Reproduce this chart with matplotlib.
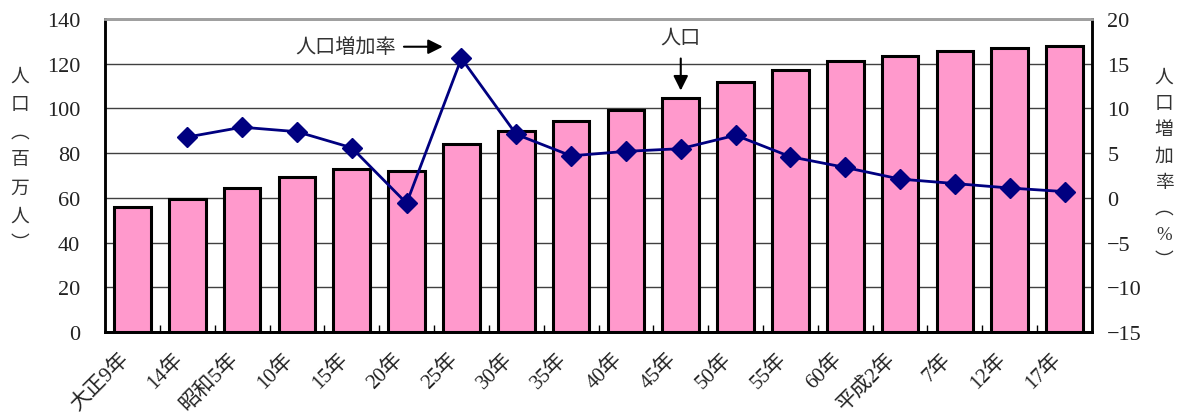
import numpy as np
import matplotlib
matplotlib.use("Agg")
import matplotlib.pyplot as plt

plt.rcParams['font.family'] = ['Liberation Serif', 'Noto Sans CJK JP']

## Data
years = ['大正9年', '14年', '昭和5年', '10年', '15年', '20年', '25年', '30年', '35年',
         '40年', '45年', '50年', '55年', '60年', '平成2年', '7年', '12年', '17年']
population = [56.0, 59.7, 64.4, 69.3, 73.1, 72.1, 84.1, 90.1, 94.3,
              99.2, 104.7, 111.9, 117.1, 121.0, 123.6, 125.6, 126.9, 127.8]
# growth rate starts at the second period (14年)
growth = [np.nan, 6.8, 7.9, 7.4, 5.6, -0.6, 15.6, 7.1, 4.7,
          5.2, 5.5, 7.0, 4.6, 3.4, 2.1, 1.6, 1.1, 0.7]

left_ticks = np.arange(0, 141, 20)
right_ticks = np.arange(-15, 21, 5)

#%% Figure
fig = plt.figure(figsize=(11.8, 4.14), dpi=100)
ax = fig.add_axes([105/1180, 1 - 333/414, (1092 - 105)/1180, (333 - 20)/414])
ax2 = ax.twinx()

x = np.arange(len(years))

# --- bars: population ---
ax.bar(x, population, width=0.67, color='#FF99CC', edgecolor='black', linewidth=2.2, zorder=2)
ax.set_xlim(-0.5, len(years) - 0.5)
ax.set_ylim(0, 140)
ax.set_yticks(left_ticks)
ax.yaxis.grid(True, color='#404040', linewidth=1)
ax.set_axisbelow(True)
ax.tick_params(axis='y', length=0, pad=18, labelsize=16, colors='#222222')

ax.set_xticks(x)
ax.set_xticklabels(years, rotation=45, ha='right', va='top', fontsize=15)
ax.set_xticks(np.arange(0.5, len(years) - 1, 1), minor=True)
ax.tick_params(axis='x', which='major', length=0, pad=12, colors='#222222')
ax.tick_params(axis='x', which='minor', direction='in', length=5, width=1)

# --- line: growth rate ---
ax2.plot(x, growth, color='#000080', linewidth=2, marker='D', markersize=10, zorder=3)
ax2.set_ylim(-15, 20)
ax2.set_yticks(right_ticks)
ax2.tick_params(axis='y', length=0, pad=11, labelsize=16, colors='#222222')

for a in (ax, ax2):
    a.spines['left'].set_linewidth(1.8)
    a.spines['right'].set_linewidth(1.8)
    a.spines['bottom'].set_linewidth(2)
    a.spines['top'].set_color('#a0a0a0')
    a.spines['top'].set_linewidth(2)

# --- annotations ---
ax2.annotate('人口増加率', xy=(5.66, 16.9), xytext=(4.8, 16.9), ha='right', va='center',
             fontsize=14.5, color='#333333', family=['Noto Sans CJK JP'],
             arrowprops=dict(arrowstyle='-|>', color='black', lw=1.5, mutation_scale=22,
                             shrinkA=4, shrinkB=0))
ax.annotate('人口', xy=(10, 108), xytext=(10, 132), ha='center', va='center',
            fontsize=14.5, color='#333333', family=['Noto Sans CJK JP'],
            arrowprops=dict(arrowstyle='-|>', color='black', lw=1.5, mutation_scale=22,
                            shrinkA=6, shrinkB=0))

# --- vertical axis titles ---
fig.text(20/1180, 1 - 160/414, '\n'.join('人口︵百万人︶'), ha='center', va='center',
         fontsize=13.5, color='#333333', family=['Noto Sans CJK JP'], linespacing=1.43)
fig.text(1164/1180, 1 - 170/414, '\n'.join('人口増加率︵%︶'), ha='center', va='center',
         fontsize=13.5, color='#333333', family=['Liberation Serif', 'Noto Sans CJK JP'],
         linespacing=1.7)

fig.savefig('out.png', dpi=100)
